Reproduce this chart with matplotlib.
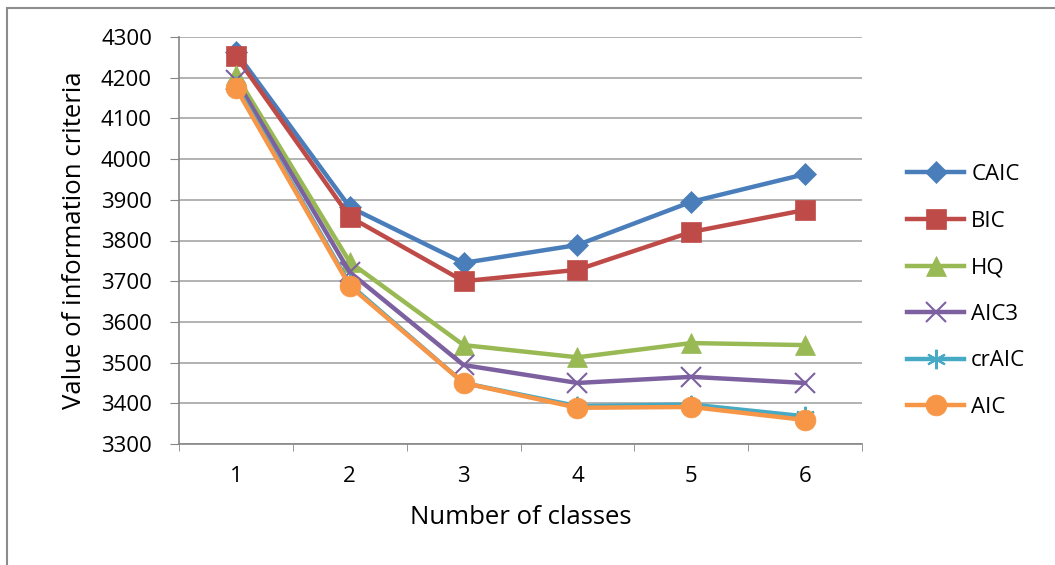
import matplotlib
matplotlib.use("Agg")
import matplotlib.pyplot as plt
from matplotlib.patches import Rectangle

plt.rcParams['font.family'] = ['Open Sans', 'DejaVu Sans']

classes = [1, 2, 3, 4, 5, 6]
caic = [4263, 3882, 3745, 3789, 3895, 3963]
bic = [4253, 3858, 3700, 3728, 3821, 3875]
hq = [4207, 3747, 3543, 3513, 3548, 3543]
aic3 = [4195, 3722, 3494, 3450, 3465, 3450]
craic = [4180, 3692, 3450, 3393, 3397, 3368]
aic = [4175, 3688, 3450, 3389, 3391, 3359]
y_ticks = [3300, 3400, 3500, 3600, 3700, 3800, 3900, 4000, 4100, 4200, 4300]

series = [
    ("CAIC", caic, "#4A7EBB", "D", 11),
    ("BIC", bic, "#BE4B48", "s", 15),
    ("HQ", hq, "#98B954", "^", 14),
    ("AIC3", aic3, "#7D60A0", "x", 14),
    ("crAIC", craic, "#46AAC5", (6, 2, 0), 14),
    ("AIC", aic, "#F79646", "o", 15),
]

fig = plt.figure(figsize=(10.55, 5.65), dpi=100)
fig.patches.append(Rectangle((7 / 1055, -0.02), 1.1, 1 - 8 / 565 + 0.02,
                             transform=fig.transFigure, fill=False,
                             edgecolor="#8c8c8c", linewidth=1.5))
ax = fig.add_axes([179 / 1055, 1 - 444 / 565, (862 - 179) / 1055, (444 - 37) / 565])

handles = []
for name, vals, color, marker, ms in series:
    mew = 1.5 if marker in ("x", (6, 2, 0)) else 0.5
    h, = ax.plot(classes, vals, color=color, linewidth=3.2, marker=marker,
                 markersize=ms, markerfacecolor=color, markeredgecolor=color,
                 markeredgewidth=mew, label=name)
    handles.append(h)

ax.set_xlim(0.5, 6.5)
ax.set_ylim(3300, 4300)
ax.set_yticks(y_ticks)
ax.set_xticks(classes)
ax.set_xticks([0.5 + i for i in range(7)], minor=True)
ax.tick_params(axis="x", which="major", length=0, labelsize=16, pad=16)
ax.tick_params(axis="x", which="minor", length=5, color="#868686", direction="out")
ax.tick_params(axis="y", length=6.5, color="#868686", labelsize=16, direction="out", pad=13)
ax.yaxis.grid(True, color="#a6a6a6", linewidth=1.2)
ax.set_axisbelow(True)
for s in ("top", "right"):
    ax.spines[s].set_visible(False)
for s in ("left", "bottom"):
    ax.spines[s].set_color("#868686")
    ax.spines[s].set_linewidth(1.2)

ax.set_ylabel("Value of information criteria", fontsize=18.5, labelpad=10)
ax.set_xlabel("Number of classes", fontsize=18.5, labelpad=13)

fig.legend(handles=handles, loc="upper left", bbox_to_anchor=(0.851, 0.725),
           frameon=False, fontsize=16, handlelength=2.6, handletextpad=0.3,
           labelspacing=1.15, borderaxespad=0)

fig.savefig("out.png", dpi=100)
